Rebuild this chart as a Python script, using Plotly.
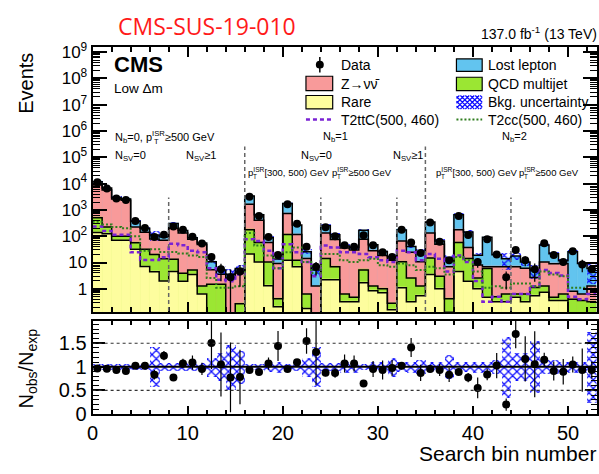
import numpy as np
import plotly.graph_objects as go

# ---------------- data ----------------
rare = [140, 125, 70, 70, 32, 7, 4.5, 2,
        4.6, 1.95, 3.5, 0.63, 0.1, 0.06, 0.03, 0.06,
        21, 10.5, 1.3, 0.21, 12.3, 6.9, 0.18, 0.03,
        2.2, 2.2, 0.32, 0.32, 1.7, 0.85, 0.71, 0.16,
        1.1, 0.32, 0.55, 3.5, 1.0, 0.13, 4.6, 1.95,
        1.0, 0.48, 0.32, 0.32, 0.48, 0.32, 0.55, 0.74,
        0.36, 0.36, 0.1, 0.1, 0.1]
qcd = [360, 100, 30, 30, 24, 25, 15.5, 12,
       8.6, 2, 1.7, 0.66, 1.38, 1.42, 0.07, 0.21,
       157, 47, 9.2, 0.21, 103, 5.4, 0.45, 0.07,
       11.9, 4.7, 0.31, 0.16, 3.55, 0.44, 0.3, 0.12,
       9.6, 2.25, 0.74, 11.3, 2, 0.29, 53, 12.2,
       1.57, 5.5, 0.18, 0.31, 0.15, 0.31, 0.57, 0.55,
       0.12, 0.27, 0.3, 0.26, 0.22]
znn = [8400, 5530, 2530, 2240, 168, 109, 59, 57,
       187, 128, 71, 46.7, 3.8, 2.07, 2.4, 3.7,
       1480, 350, 47, 8.7, 609, 103, 13.5, 1.19,
       118, 69, 34.9, 29.7, 70.7, 26.9, 17.6, 12,
       55.3, 22, 9.4, 117, 47, 6.5, 120, 23.1,
       5.4, 0.9, 6.4, 6.3, 6.3, 5.4, 1.6, 9.2,
       8.6, 8.5, 0.4, 0.27, 0.97]
lostlep = [2850, 1000, 320, 290, 148, 59, 33, 22,
           102, 34, 11, 7, 5.5, 1.7, 1.05, 1.9,
           1730, 254, 29.5, 4.4, 1014, 154, 11.6, 3.96,
           119, 39, 7.2, 7, 94, 19.7, 7.7, 4.3,
           108, 16.2, 15.6, 215, 16, 7.9, 483, 108,
           11.1, 84, 13, 6.9, 10.9, 4.5, 2.5, 36.3,
           12.3, 2.6, 24.9, 8.5, 4.6]
data = [11300, 6460, 2750, 2400, 380, 204, 93, 115,
        234, 178, 95, 52.5, 16.2, 5.5, 2.75, 4.6,
        3160, 589, 93, 19.5, 1660, 295, 39.8, 6.9,
        219, 100, 45.7, 39.8, 110, 45.7, 24.5, 16.2,
        178, 57.5, 22.9, 331, 61.7, 12.3, 589, 112,
        10.5, 76, 20.4, 2.75, 30.2, 12.3, 5.5, 53.7,
        19.5, 10.5, 27, 8.5, 5.5]
# relative background uncertainty
bkg_unc = [0.07, 0.07, 0.07, 0.07, 0.07, 0.07, 0.42, 0.08,
           0.08, 0.08, 0.08, 0.08, 0.2, 0.3, 0.48, 0.35,
           0.07, 0.07, 0.1, 0.12, 0.07, 0.08, 0.2, 0.42,
           0.08, 0.08, 0.12, 0.12, 0.07, 0.1, 0.1, 0.2,
           0.1, 0.12, 0.15, 0.1, 0.1, 0.25, 0.1, 0.1,
           0.12, 0.1, 0.15, 0.65, 0.3, 0.3, 0.55, 0.15,
           0.15, 0.1, 0.12, 0.12, 0.75]
# error on the ratio points
ratio_err = [0.04, 0.04, 0.05, 0.05, 0.06, 0.07, 0.1, 0.1,
             0.07, 0.1, 0.15, 0.13, 0.55, 0.68, 0.74, 0.58,
             0.03, 0.05, 0.13, 0.32, 0.03, 0.07, 0.27, 0.7,
             0.07, 0.1, 0.19, 0.17, 0.07, 0.17, 0.2, 0.17,
             0.08, 0.2, 0.17, 0.06, 0.13, 0.15, 0.05, 0.1,
             0.22, 0.12, 0.27, 0.13, 0.3, 0.48, 0.7, 0.15,
             0.2, 0.27, 0.17, 0.46, 0.18]
t2ttc = [234, 158, 115, 115, 24.5, 12.6, 12.6, 15.8,
         52, 45, 28, 24.5, 6.0, 2.2, 1.95, 3.5,
         76, 66, 28, 6, 50, 24.5, 10.5, 3.0,
         44, 37, 24.5, 24.5, 21, 16, 12.3, 10.5,
         28, 24.5, 12.3, 21, 14, 4.6, 18.6, 10.5,
         2.0, 0.32, 0.5, 0.32, 0.63, 0.63, 1.26, 5.2,
         4.0, 3.2, 0.5, 0.4, 0.63]
t2cc = [355, 282, 224, 200, 100, 28, 32, 25,
        25, 22, 18.6, 16.2, 2.6, 1.1, 1.1, 1.26,
        132, 44, 18.6, 6, 24.5, 37, 10.5, 4.0,
        21, 21, 12.3, 10.5, 12.3, 14, 7.9, 6.9,
        9.1, 7.9, 5.2, 6.9, 6.0, 3.5, 16.2, 12.3,
        4.6, 1.1, 1.26, 1.1, 1.6, 1.6, 1.26, 4.6,
        3.5, 3.0, 1.1, 1.1, 1.0]

y_tick_vals = [1, 10, 1e2, 1e3, 1e4, 1e5, 1e6, 1e7, 1e8, 1e9]
y_tick_text = ["1", "10"] + ["10<sup>%d</sup>" % n for n in range(2, 10)]
r_tick_vals = [0, 0.5, 1, 1.5]
r_tick_text = ["0", "0.5", "1", "1.5"]

# ---------------- styling ----------------
W, H = 599, 474
FONT = "Liberation Sans, Arial, Helvetica, sans-serif"
C_LL = "#62c4ef"
C_ZNN = "#f89a9a"
C_QCD = "#9be633"
C_RARE = "#fdfd9e"
C_T2TTC = "#7a22d4"
C_T2CC = "#2f7d1e"
C_HATCH = "#0a0aff"


def px(x):
    return x / W


def py(y):
    return 1 - y / H


nb = len(data)
centers = np.arange(nb) + 0.5
edges = np.arange(nb + 1)
c1 = np.array(rare)
c2 = c1 + np.array(qcd)
c3 = c2 + np.array(znn)
c4 = c3 + np.array(lostlep)
tot = c4
unc = np.array(bkg_unc)
data_a = np.array(data)
rerr = np.array(ratio_err)

HATCH = dict(shape="x", fgcolor=C_HATCH, size=6, solidity=0.36,
             bgcolor="rgba(0,0,0,0)", fgopacity=1)

fig = go.Figure()

# stacked fills (drawn from the top cumulative down)
for vals, col in [(c4, C_LL), (c3, C_ZNN), (c2, C_QCD), (c1, C_RARE)]:
    fig.add_bar(x=centers, y=vals, width=1,
                marker=dict(color=col, line=dict(color=col, width=0.6)),
                showlegend=False, xaxis="x", yaxis="y")

# step outlines
for vals in [c1, c2, c3, c4]:
    fig.add_scatter(x=edges, y=np.append(vals, vals[-1]), mode="lines",
                    line=dict(shape="hv", color="black", width=1.5),
                    showlegend=False, xaxis="x", yaxis="y", hoverinfo="skip")

# background uncertainty hatch
fig.add_bar(x=centers, y=tot * 2 * unc, base=tot * (1 - unc), width=1,
            marker=dict(color="rgba(0,0,0,0)", line=dict(width=0), pattern=HATCH),
            showlegend=False, xaxis="x", yaxis="y")

# signals
fig.add_scatter(x=edges, y=np.append(t2ttc, t2ttc[-1]), mode="lines",
                line=dict(shape="hv", color=C_T2TTC, width=2.5, dash="4px,3px"),
                showlegend=False, xaxis="x", yaxis="y")
fig.add_scatter(x=edges, y=np.append(t2cc, t2cc[-1]), mode="lines",
                line=dict(shape="hv", color=C_T2CC, width=2, dash="2px,2px"),
                showlegend=False, xaxis="x", yaxis="y")

# data
fig.add_scatter(x=centers, y=data_a, mode="markers",
                marker=dict(color="black", size=8),
                error_y=dict(type="data", array=rerr * tot, color="black",
                             thickness=1.3, width=0),
                showlegend=False, xaxis="x", yaxis="y")

# ratio panel
fig.add_bar(x=centers, y=2 * unc, base=1 - unc, width=1,
            marker=dict(color="rgba(0,0,0,0)", line=dict(width=0), pattern=HATCH),
            showlegend=False, xaxis="x2", yaxis="y2")
fig.add_scatter(x=centers, y=data_a / tot, mode="markers",
                marker=dict(color="black", size=8),
                error_y=dict(type="data", array=rerr, color="black",
                             thickness=1.2, width=0),
                showlegend=False, xaxis="x2", yaxis="y2")

XDOM = [px(87.5), px(596.5)]
UDOM = [py(317), py(42)]
LDOM = [py(423), py(326)]

axis_common = dict(showline=True, linecolor="black", linewidth=2, mirror="allticks",
                   ticks="inside", showgrid=False, zeroline=False,
                   tickcolor="black", tickwidth=1.5)

minor_y = [k * 10.0 ** n for n in range(-1, 10) for k in range(2, 10)]

fig.update_layout(
    width=W, height=H,
    margin=dict(l=0, r=0, t=0, b=0),
    paper_bgcolor="white", plot_bgcolor="white",
    barmode="overlay", bargap=0,
    font=dict(family=FONT, color="black"),
    xaxis=dict(domain=XDOM, anchor="y", range=[0, 53], matches="x2",
               showticklabels=False, tick0=0, dtick=10, ticklen=10,
               minor=dict(tick0=0, dtick=2, ticks="inside", ticklen=5,
                          tickcolor="black", tickwidth=1.5),
               **axis_common),
    yaxis=dict(domain=UDOM, anchor="x", type="log", range=[-0.88, 9.18],
               tickmode="array", tickvals=y_tick_vals, ticktext=y_tick_text,
               ticklen=14, tickfont=dict(size=17),
               minor=dict(tickmode="array", tickvals=minor_y, ticks="inside",
                          ticklen=7, tickcolor="black", tickwidth=1.2),
               **axis_common),
    xaxis2=dict(domain=XDOM, anchor="y2", range=[0, 53],
                tick0=0, dtick=10, ticklen=8, tickfont=dict(size=20),
                minor=dict(tick0=0, dtick=2, ticks="inside", ticklen=4,
                           tickcolor="black", tickwidth=1.5),
                **axis_common),
    yaxis2=dict(domain=LDOM, anchor="x2", range=[0, 1.98],
                tickmode="array", tickvals=r_tick_vals, ticktext=r_tick_text,
                ticklen=12, tickfont=dict(size=20),
                minor=dict(tick0=0, dtick=0.1, ticks="inside", ticklen=6,
                           tickcolor="black", tickwidth=1.2),
                **axis_common),
)

shapes = []
# ratio reference lines
shapes.append(dict(type="line", xref="x2", yref="y2", x0=0, x1=53, y0=1, y1=1,
                   line=dict(color="black", width=2)))
for v in (0.5, 1.5):
    shapes.append(dict(type="line", xref="x2", yref="y2", x0=0, x1=53, y0=v, y1=v,
                       line=dict(color="#333", width=1.2, dash="dot")))
# region dividers
for xb, ytop in [(8, 198), (16, 145), (24, 198), (32, 198), (35, 145), (44, 198)]:
    shapes.append(dict(type="line", xref="x", yref="paper", x0=xb, x1=xb,
                       y0=py(316), y1=py(ytop),
                       line=dict(color="#666", width=1.5, dash="4px,3px")))


def rect(x0, y0, x1, y1, fill, line="black"):
    return dict(type="rect", xref="paper", yref="paper",
                x0=px(x0), x1=px(x1), y0=py(y1), y1=py(y0),
                fillcolor=fill, line=dict(color=line, width=1.2))


# legend glyphs
shapes.append(dict(type="line", xref="paper", yref="paper", x0=px(317), x1=px(317),
                   y0=py(52), y1=py(68), line=dict(color="black", width=1.5)))
shapes.append(dict(type="circle", xref="paper", yref="paper",
                   x0=px(313), x1=px(321), y0=py(64), y1=py(56),
                   fillcolor="black", line=dict(color="black", width=0)))
shapes.append(rect(303, 72, 330, 87, C_ZNN))
shapes.append(rect(303, 92, 330, 106, C_RARE))
shapes.append(dict(type="line", xref="paper", yref="paper", x0=px(303), x1=px(330),
                   y0=py(117), y1=py(117),
                   line=dict(color=C_T2TTC, width=2.5, dash="4px,3px")))
shapes.append(rect(455, 54, 481, 67, C_LL))
shapes.append(rect(455, 73, 481, 87, C_QCD))
shapes.append(dict(type="line", xref="paper", yref="paper", x0=px(455), x1=px(481),
                   y0=py(117), y1=py(117),
                   line=dict(color=C_T2CC, width=2, dash="2px,2px")))
# hatch glyph (crossed diagonals clipped to the box)
hx0, hy0, hx1, hy1 = 455, 92, 481, 106
segs = []
for k in range(-16, 30, 5):
    for sgn in (1, -1):
        xs, ys = [], []
        for xx in np.arange(hx0, hx1 + 0.01, 0.25):
            yy = hy0 + (xx - hx0 - k) if sgn == 1 else hy1 - (xx - hx0 - k)
            if hy0 <= yy <= hy1:
                xs.append(xx)
                ys.append(yy)
        if len(xs) >= 2:
            segs.append("M%.5f,%.5f L%.5f,%.5f" % (px(xs[0]), py(ys[0]), px(xs[-1]), py(ys[-1])))
shapes.append(dict(type="path", xref="paper", yref="paper", path=" ".join(segs),
                   line=dict(color=C_HATCH, width=1.2)))
fig.update_layout(shapes=shapes)

ann = []


def text(x, y, s, size, anchor="left", **kw):
    ann.append(dict(x=px(x), y=py(y), xref="paper", yref="paper", text=s,
                    showarrow=False, xanchor=anchor, yanchor="middle", borderpad=0,
                    font=dict(size=size, family=kw.get("family", FONT),
                              color=kw.get("color", "black"))))


def pt_label(x, y, prefix_w, rest, size):
    # p_T^ISR with stacked sub/superscript: main text + separate subscript T
    text(x, y, rest, size)
    text(x + prefix_w + 0.556 * size, y + 0.42 * size, "T", 0.68 * size)


text(112, 20, "CMS-SUS-19-010", 23, color="#ff1a1a",
     family="Open Sans, Liberation Sans, sans-serif")
text(598, 27, "137.0 fb<sup>-1</sup> (13 TeV)", 14, anchor="right")
text(108, 60, "<b>CMS</b>", 22)
text(108, 85, "Low Δm", 13.5)
# legend texts
for (x, y, s) in [(337, 60, "Data"), (337, 80, "Z→νν̄"), (337, 99, "Rare"),
                  (337, 117, "T2ttC(500, 460)"), (486, 60, "Lost lepton"),
                  (486, 80, "QCD multijet"), (486, 99, "Bkg. uncertainty"),
                  (486, 117, "T2cc(500, 460)")]:
    text(x, y, s, 14)
# region labels
S = 11
pre = "N<sub>b</sub>=0, "
pt_label(109, 135, 33.5, pre + "p<sup>ISR</sup>≥500 GeV", S)
text(109, 155, "N<sub>SV</sub>=0", S)
text(181, 155, "N<sub>SV</sub>≥1", S)
s2 = 9.5
pt_label(243, 172, 0, "p<sup>ISR</sup>[300, 500) GeV", s2)
pt_label(328, 172, 0, "p<sup>ISR</sup>≥500 GeV", s2)
pt_label(433, 172, 0, "p<sup>ISR</sup>[300, 500) GeV", s2)
pt_label(517, 172, 0, "p<sup>ISR</sup>≥500 GeV", s2)
text(333, 135, "N<sub>b</sub>=1", S, anchor="center")
text(314, 155, "N<sub>SV</sub>=0", S, anchor="center")
text(406, 155, "N<sub>SV</sub>≥1", S, anchor="center")
text(514, 135, "N<sub>b</sub>=2", S, anchor="center")
# axis titles
ann.append(dict(x=px(20), y=py(79), xref="paper", yref="paper", text="Events",
                textangle=-90, showarrow=False, xanchor="center", yanchor="middle",
                font=dict(size=20, family=FONT)))
ann.append(dict(x=px(22), y=py(376), xref="paper", yref="paper",
                text="N<sub>obs</sub>/N<sub>exp</sub>",
                textangle=-90, showarrow=False, xanchor="center", yanchor="middle",
                font=dict(size=20, family=FONT)))
text(597, 464, "Search bin number", 21, anchor="right")
fig.update_layout(annotations=ann)

fig.write_html("out.html")
